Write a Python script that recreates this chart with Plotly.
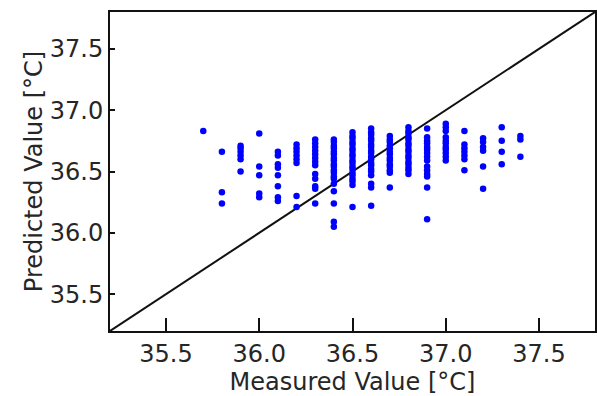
import plotly.graph_objects as go

# measured temperature levels and predicted values
m_357 = [36.83]
m_358 = [36.66, 36.33, 36.24]
m_359 = [36.71, 36.69, 36.66, 36.63, 36.60, 36.50]
m_360 = [36.81, 36.54, 36.47, 36.32, 36.29]
m_361 = [36.66, 36.63, 36.56, 36.53, 36.47, 36.38, 36.29, 36.26]
m_362 = [36.72, 36.69, 36.66, 36.63, 36.60, 36.57, 36.30, 36.21]
m_363 = [36.76, 36.73, 36.70, 36.67, 36.64, 36.61, 36.58, 36.55, 36.48, 36.44, 36.38, 36.36, 36.24]
m_364 = [36.76, 36.74, 36.71, 36.69, 36.66, 36.64, 36.61, 36.59, 36.56, 36.54, 36.51, 36.49, 36.46,
         36.44, 36.40, 36.34, 36.24, 36.09, 36.05]
m_365 = [36.82, 36.79, 36.77, 36.74, 36.72, 36.69, 36.67, 36.64, 36.62, 36.59, 36.57, 36.54, 36.52,
         36.49, 36.47, 36.44, 36.42, 36.39, 36.21]
m_366 = [36.85, 36.82, 36.80, 36.77, 36.75, 36.72, 36.70, 36.67, 36.65, 36.62, 36.60, 36.57, 36.55,
         36.52, 36.50, 36.47, 36.40, 36.37, 36.22]
m_367 = [36.79, 36.76, 36.74, 36.71, 36.69, 36.66, 36.64, 36.61, 36.59, 36.56, 36.54, 36.51, 36.49, 36.37]
m_368 = [36.86, 36.83, 36.81, 36.78, 36.76, 36.73, 36.71, 36.68, 36.66, 36.63, 36.61, 36.58, 36.56,
         36.53, 36.51, 36.48]
m_369 = [36.85, 36.78, 36.75, 36.73, 36.70, 36.68, 36.65, 36.62, 36.59, 36.54, 36.51, 36.48, 36.46,
         36.37, 36.11]
m_370 = [36.89, 36.86, 36.83, 36.78, 36.75, 36.73, 36.70, 36.68, 36.65, 36.62, 36.59]
m_371 = [36.83, 36.72, 36.69, 36.66, 36.63, 36.60, 36.51]
m_372 = [36.77, 36.74, 36.70, 36.67, 36.54, 36.36]
m_373 = [36.86, 36.75, 36.66, 36.56]
m_374 = [36.79, 36.76, 36.62]

measured_levels = [35.7, 35.8, 35.9, 36.0, 36.1, 36.2, 36.3, 36.4, 36.5, 36.6, 36.7, 36.8, 36.9,
                   37.0, 37.1, 37.2, 37.3, 37.4]
predicted_groups = [m_357, m_358, m_359, m_360, m_361, m_362, m_363, m_364, m_365, m_366, m_367,
                    m_368, m_369, m_370, m_371, m_372, m_373, m_374]

axis_range = [35.2, 37.8]
tick_vals = [35.5, 36.0, 36.5, 37.0, 37.5]
tick_text = ["35.5", "36.0", "36.5", "37.0", "37.5"]

measured = []
predicted = []
for lvl, grp in zip(measured_levels, predicted_groups):
    for p in grp:
        measured.append(lvl)
        predicted.append(p)

fig = go.Figure()
fig.add_trace(go.Scatter(x=axis_range, y=axis_range, mode="lines",
                         line=dict(color="#111111", width=2), showlegend=False,
                         hoverinfo="skip"))
fig.add_trace(go.Scatter(x=measured, y=predicted, mode="markers",
                         marker=dict(color="#0000ff", size=6.5, line=dict(width=0)),
                         showlegend=False))

font = dict(family="DejaVu Sans", size=24, color="#262626")
fig.update_layout(
    width=597, height=396,
    margin=dict(l=110, r=2, t=12, b=65, autoexpand=False),
    paper_bgcolor="white", plot_bgcolor="white",
    font=font,
)
fig.update_xaxes(range=axis_range, tickvals=tick_vals, ticktext=tick_text,
                 ticks="inside", ticklen=13, tickwidth=2, tickcolor="#111111",
                 showline=True, linewidth=2, linecolor="#111111", mirror=True,
                 showgrid=False, zeroline=False, automargin=False,
                 title=dict(text="Measured Value [°C]", font=font, standoff=2),
                 tickfont=font)
fig.update_yaxes(range=axis_range, tickvals=tick_vals, ticktext=tick_text,
                 ticks="inside", ticklen=5, tickwidth=2, tickcolor="#111111",
                 showline=True, linewidth=2, linecolor="#111111", mirror=True,
                 showgrid=False, zeroline=False, automargin=False,
                 title=dict(text="Predicted Value [°C]", font=font, standoff=0),
                 tickfont=font)

fig.write_html("out.html",
               config={"displayModeBar": False},
               post_script="document.body.style.margin='0';"
                           "document.body.style.overflow='hidden';")
